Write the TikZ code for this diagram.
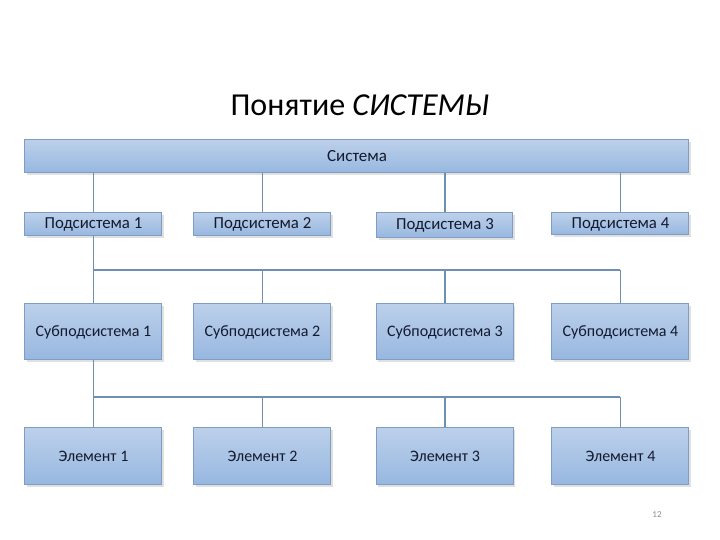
\documentclass[tikz,border=0pt]{standalone}
\usepackage{fontspec}
\setmainfont{Carlito}
\usetikzlibrary{shadows}
\definecolor{boxtop}{HTML}{BCD0EA}
\definecolor{boxbot}{HTML}{97B7E0}
\definecolor{boxline}{HTML}{7F9DC3}
\definecolor{linkline}{HTML}{6E8FB0}
\definecolor{textdark}{HTML}{141A2E}
\definecolor{pagenum}{HTML}{8C8C8C}
\tikzset{
  blockbox/.style={draw=boxline,line width=0.5pt,top color=boxtop,bottom color=boxbot,
    text=textdark,inner sep=0pt,align=center,
    drop shadow={shadow xshift=0.8pt,shadow yshift=-0.8pt,opacity=0.12,fill=black}},
  link/.style={draw=linkline,line width=0.6pt}
}

\begin{document}
\begin{tikzpicture}[x=0.5pt,y=-0.5pt]
  \useasboundingbox (0,0) rectangle (720,540);
  \node[font=\fontsize{16}{18}\selectfont,text=black] (title) at (360,105) {Понятие \textit{СИСТЕМЫ}};
  \node[blockbox,minimum width=332pt,minimum height=16.5pt,font=\fontsize{8.5}{10}\selectfont] (sys) at (357,156.5) {Система};

  % level 1
  \node[blockbox,minimum width=68.5pt,minimum height=11.5pt,font=\fontsize{8.4}{10}\selectfont] (pod1) at (93.5,224.5) {Подсистема 1};
  \node[blockbox,minimum width=68.5pt,minimum height=11.5pt,font=\fontsize{8.4}{10}\selectfont] (pod2) at (262.5,224.5) {Подсистема 2};
  \node[blockbox,minimum width=68pt,minimum height=12.5pt,font=\fontsize{8.4}{10}\selectfont] (pod3) at (445,225.5) {Подсистема 3};
  \node[blockbox,minimum width=68.5pt,minimum height=11pt,font=\fontsize{8.4}{10}\selectfont] (pod4) at (620.5,224) {Подсистема 4};

  % level 2
  \foreach \i/\x in {1/93.5,2/262.5,3/445,4/620.5}
    \node[blockbox,minimum width=68.5pt,minimum height=28pt,font=\fontsize{8}{10}\selectfont] (sub\i) at (\x,332) {Субподсистема \i};

  % level 3
  \foreach \i/\x in {1/93.5,2/262.5,3/445,4/620.5}
    \node[blockbox,minimum width=68.5pt,minimum height=28.5pt,font=\fontsize{8}{10}\selectfont] (elem\i) at (\x,456.5) {Элемент \i};

  \coordinate (bus1) at (0,270);
  \coordinate (bus2) at (0,397);

  \foreach \i in {1,...,4}
    \draw[link] (sys.south -| pod\i) -- (pod\i.north);
  \draw[link] (pod1.south) -- (sub1.north);
  \draw[link] (bus1 -| pod1) -- (bus1 -| pod4);
  \foreach \i in {2,3,4}
    \draw[link] (bus1 -| sub\i) -- (sub\i.north);
  \draw[link] (sub1.south) -- (elem1.north);
  \draw[link] (bus2 -| sub1) -- (bus2 -| sub4);
  \foreach \i in {2,3,4}
    \draw[link] (bus2 -| elem\i) -- (elem\i.north);

  \node[font=\fontsize{4.5}{5}\selectfont,text=pagenum] (page) at (657,515) {12};
\end{tikzpicture}
\end{document}
